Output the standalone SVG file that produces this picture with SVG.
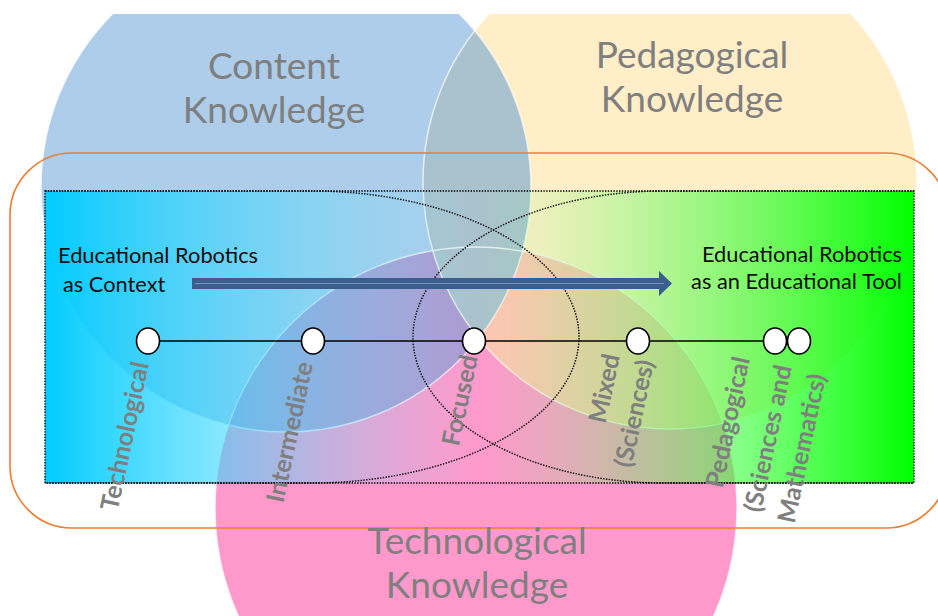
<svg xmlns="http://www.w3.org/2000/svg" width="938" height="616" viewBox="0 0 938 616">
<defs>
<clipPath id="clipTop"><rect x="0" y="14" width="938" height="602"/></clipPath>
<linearGradient id="grad" x1="45" y1="0" x2="914" y2="0" gradientUnits="userSpaceOnUse">
<stop offset="0" stop-color="#00CCFF" stop-opacity="1"/>
<stop offset="0.5" stop-color="#80E6FF" stop-opacity="0"/>
<stop offset="0.5" stop-color="#80FF80" stop-opacity="0"/>
<stop offset="1" stop-color="#00FF00" stop-opacity="1"/>
</linearGradient>
<style>
.edge{fill:none;stroke:#FFFFFF;stroke-opacity:0.7;stroke-width:1.5}
.dot{fill:none;stroke:#000;stroke-width:1.4;stroke-dasharray:1.4 1.4}
.big{font-family:Lato,"Liberation Sans",sans-serif;font-size:37px;fill:#7F7F7F;text-anchor:middle}
.blk{font-family:Lato,"Liberation Sans",sans-serif;font-size:21.8px;fill:#0D0D0D}
.lbl{font-family:Lato,"Liberation Sans",sans-serif;font-size:25px;font-weight:bold;fill:#7F7F7F;text-anchor:end}
.node{fill:#FFFFFF;stroke:#000;stroke-width:1.6}
</style>
</defs>
<rect width="938" height="616" fill="#FFFFFF"/>
<g clip-path="url(#clipTop)">
  <g id="technological-knowledge"><circle cx="476" cy="508" r="261" fill="#FF3399" fill-opacity="0.5"/></g>
  <g id="pedagogical-knowledge"><circle cx="670" cy="182" r="247" fill="#FFE3A3" fill-opacity="0.6"/></g>
  <g id="content-knowledge"><circle cx="286" cy="187" r="245" fill="#5B9BD5" fill-opacity="0.5"/></g>
  <path d="M474.7 30.7 A245 245 0 0 1 478.7 338.3 A247 247 0 0 1 474.7 30.7 Z" fill="#AAC2CD"/>
  <circle class="edge" cx="476" cy="508" r="261"/>
  <circle class="edge" cx="670" cy="182" r="247"/>
  <circle class="edge" cx="286" cy="187" r="245"/>
</g>
<rect id="spectrum" x="45" y="191" width="869" height="292" fill="url(#grad)"/>
<g id="zones">
  <rect class="dot" x="45" y="191" width="869" height="292"/>
  <path class="dot" d="M45 191 H311 A268 146 0 0 1 311 483 H45"/>
  <path class="dot" d="M914 191 H664 A251 146 0 0 0 664 483 H914"/>
</g>
<rect id="frame" x="10" y="153" width="938" height="375" rx="62" ry="62" fill="none" stroke="#ED7D31" stroke-width="1.6"/>
<g id="knowledge-labels">
  <text class="big" x="274" y="79">Content</text>
  <text class="big" x="274" y="123">Knowledge</text>
  <text class="big" x="692" y="68">Pedagogical</text>
  <text class="big" x="692" y="112">Knowledge</text>
  <text class="big" x="477" y="554">Technological</text>
  <text class="big" x="477" y="598">Knowledge</text>
</g>
<g id="connectors">
  <polygon points="192,278 659,278 659,271 672,283.5 659,296 659,289 192,289" fill="#3B5E8F"/>
  <line x1="195" y1="283.5" x2="664" y2="283.5" stroke="#6E94C6" stroke-width="1"/>
  <line x1="148" y1="341" x2="799" y2="341" stroke="#000" stroke-width="1.6"/>
</g>
<g id="context-label"><text class="blk" x="58" y="263">Educational Robotics</text><text class="blk" x="63" y="292">as Context</text></g>
<g id="tool-label"><text class="blk" x="902" y="262" text-anchor="end">Educational Robotics</text><text class="blk" x="902" y="289" text-anchor="end">as an Educational Tool</text></g>
<g id="node-technological"><ellipse class="node" cx="148" cy="341" rx="11.5" ry="13"/><text class="lbl" transform="translate(149 364) rotate(-78)">Technological</text></g>
<g id="node-intermediate"><ellipse class="node" cx="313" cy="341" rx="11.5" ry="13"/><text class="lbl" transform="translate(313 364) rotate(-78)">Intermediate</text></g>
<g id="node-focused"><ellipse class="node" cx="474" cy="341" rx="11.5" ry="13"/><text class="lbl" transform="translate(478 357) rotate(-78)">Focused</text></g>
<g id="node-mixed"><ellipse class="node" cx="638" cy="341" rx="11.5" ry="13"/><text class="lbl" transform="translate(620 356) rotate(-78)">Mixed</text><text class="lbl" transform="translate(654 362) rotate(-78)">(Sciences)</text></g>
<g id="node-pedagogical"><ellipse class="node" cx="775" cy="341" rx="11.5" ry="13"/><text class="lbl" transform="translate(750 359) rotate(-78)">Pedagogical</text></g>
<g id="node-sciences-maths"><ellipse class="node" cx="799" cy="341" rx="11.5" ry="13"/><text class="lbl" transform="translate(792 367) rotate(-78)">(Sciences and</text><text class="lbl" transform="translate(826 376) rotate(-78)">Mathematics)</text></g>
</svg>
